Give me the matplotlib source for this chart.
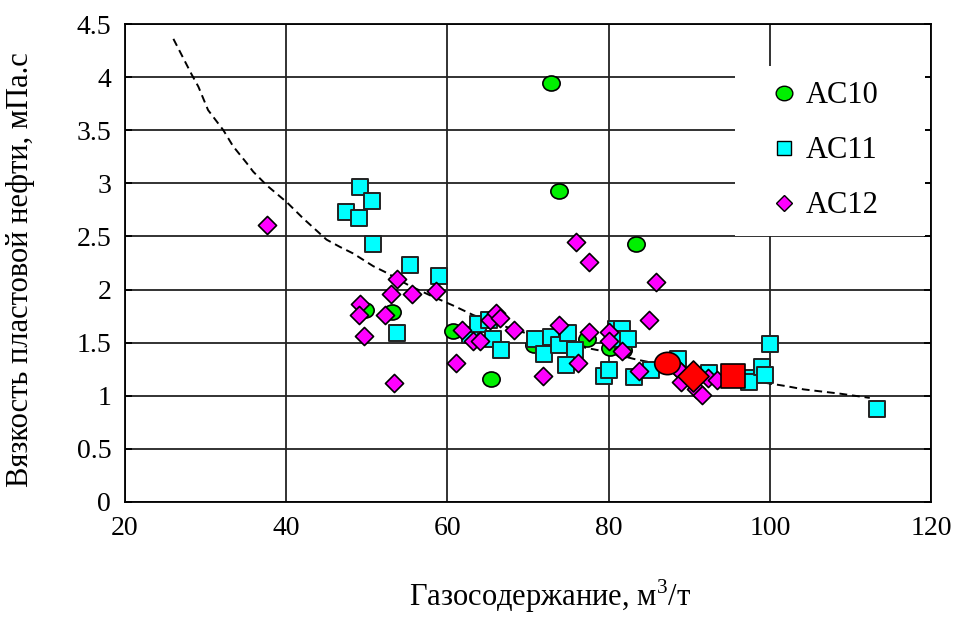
import numpy as np
import matplotlib
matplotlib.use("Agg")
from matplotlib import pyplot as plt
from matplotlib.path import Path
from matplotlib.lines import Line2D

plt.rcParams['font.family'] = ['Liberation Serif', 'DejaVu Serif']
plt.rcParams['mathtext.fontset'] = 'custom'
plt.rcParams['mathtext.rm'] = 'Liberation Serif'

# AC10
ac10_x = [49.8, 53.1, 60.7, 65.4, 70.8, 72.8, 73.8, 77.3, 80.2, 81.8, 83.4]
ac10_y = [1.81, 1.79, 1.61, 1.16, 1.48, 3.94, 2.93, 1.53, 1.45, 1.43, 2.43]

# AC11
ac11_x = [47.4, 49.0, 49.2, 50.6, 50.8, 55.4, 59.0, 53.8, 62.8, 63.8, 65.1, 65.7,
          66.7, 70.9, 72.0, 72.8, 73.8, 75.0, 75.8, 74.7, 79.4, 80.0, 80.9, 81.7,
          81.6, 82.4, 83.2, 85.2, 88.6, 92.4, 97.0, 97.4, 99.0, 99.4, 100.0, 113.3]
ac11_y = [2.73, 2.67, 2.97, 2.83, 2.43, 2.23, 2.13, 1.59, 1.57, 1.68, 1.71, 1.53,
          1.43, 1.53, 1.39, 1.55, 1.48, 1.59, 1.43, 1.29, 1.19, 1.24, 1.63, 1.63,
          1.53, 1.53, 1.18, 1.24, 1.35, 1.21, 1.17, 1.13, 1.27, 1.20, 1.49, 0.88]

# AC12
ac12_x = [37.6, 49.2, 49.0, 49.6, 52.3, 53.0, 53.8, 53.4, 55.6, 58.6, 61.1, 61.8,
          63.2, 64.0, 65.3, 66.0, 66.5, 68.3, 71.9, 73.8, 76.0, 76.2, 77.6, 77.6,
          80.0, 80.0, 81.6, 83.8, 85.0, 85.9, 88.7, 88.9, 89.0, 90.9, 91.6, 92.3, 93.4]
ac12_y = [2.61, 1.86, 1.76, 1.56, 1.76, 1.96, 2.10, 1.12, 1.96, 1.99, 1.31, 1.62,
          1.52, 1.52, 1.71, 1.78, 1.73, 1.62, 1.19, 1.67, 2.45, 1.31, 2.26, 1.60,
          1.60, 1.52, 1.42, 1.23, 1.71, 2.07, 1.24, 1.23, 1.13, 1.06, 1.01, 1.17, 1.15]

# averaged points
avg10 = (87.2, 1.31)
avg11 = (95.4, 1.19)
avg12 = (90.5, 1.19)

# trend curve
trend_x = [26.0, 28.3, 29.1, 30.3, 32.2, 33.4, 35.1, 35.9, 37.6, 40.1, 42.1, 45.0,
           46.7, 48.3, 50.8, 52.4, 55.2, 58.0, 60.7, 63.2, 65.3, 68.8, 72.7, 77.3,
           79.3, 83.5, 86.8, 90.5, 95.5, 99.6, 102.1, 104.2, 108.7, 112.4]
trend_y = [4.36, 4.02, 3.91, 3.69, 3.50, 3.35, 3.19, 3.11, 2.98, 2.82, 2.67, 2.47,
           2.40, 2.34, 2.22, 2.16, 2.04, 1.94, 1.85, 1.76, 1.70, 1.61, 1.53, 1.45,
           1.42, 1.34, 1.29, 1.24, 1.17, 1.12, 1.09, 1.06, 1.02, 0.98]

green = '#00f000'
cyan = '#00ffff'
magenta = '#ff00ff'
red = '#ff0000'

# slightly flattened circle for the round markers
circ = Path.unit_circle()
ellipse = Path(circ.vertices * np.array([1.0, 0.87]), circ.codes)

fig = plt.figure(figsize=(9.64, 6.17), dpi=100)
ax = fig.add_axes([0.1297, 0.1864, 0.8361, 0.7747])

ax.set_xlim(20, 120)
ax.set_ylim(0, 4.5)
ax.set_xticks(np.arange(20, 121, 20))
ax.set_yticks(np.arange(0, 4.51, 0.5))
ax.set_yticklabels(['0', '0.5', '1', '1.5', '2', '2.5', '3', '3.5', '4', '4.5'])
ax.grid(True, color='#222222', linewidth=1.3)
ax.set_axisbelow(True)
for s in ax.spines.values():
    s.set_linewidth(1.3)
ax.tick_params(axis='x', direction='in', length=0, labelsize=20, pad=10)
ax.tick_params(axis='y', direction='in', length=5, width=1.3, labelsize=20, pad=10,
               left=True, right=True)

ax.plot(trend_x, trend_y, color='black', linewidth=1.4, dashes=(4, 2.5), zorder=2)

ax.scatter(ac10_x, ac10_y, marker=ellipse, s=155, c=green, edgecolors='black',
           linewidths=1.2, zorder=3)
ax.scatter(ac11_x, ac11_y, marker='s', s=125, c=cyan, edgecolors='#222222',
           linewidths=1.4, zorder=4)
ax.scatter(ac12_x, ac12_y, marker='D', s=85, c=magenta, edgecolors='black',
           linewidths=1.2, zorder=5)

ax.scatter([avg10[0]], [avg10[1]], marker=ellipse, s=340, c=red,
           edgecolors='black', linewidths=1.2, zorder=6)
ax.scatter([avg12[0]], [avg12[1]], marker='D', s=250, c=red,
           edgecolors='black', linewidths=1.2, zorder=6)
ax.scatter([avg11[0]], [avg11[1]], marker='s', s=300, c=red,
           edgecolors='black', linewidths=1.2, zorder=6)

ax.set_xlabel(r'Газосодержание, м$^{3}$/т', fontsize=22)
ax.xaxis.set_label_coords(0.527, -0.158)
ax.set_ylabel('Вязкость пластовой нефти, мПа.с', fontsize=22)
ax.yaxis.set_label_coords(-0.112, 0.487)

handles = [
    Line2D([], [], linestyle='none', marker=ellipse, markersize=12,
           markerfacecolor=green, markeredgecolor='black', label='AC10'),
    Line2D([], [], linestyle='none', marker='s', markersize=10,
           markerfacecolor=cyan, markeredgecolor='black', label='AC11'),
    Line2D([], [], linestyle='none', marker='D', markersize=8,
           markerfacecolor=magenta, markeredgecolor='black', label='AC12'),
]
leg = ax.legend(handles=handles, loc='upper left', mode='expand',
                bbox_to_anchor=(0.757, 0.55, 0.236, 0.362),
                frameon=True, fontsize=22, handletextpad=-0.4, labelspacing=0.85,
                borderpad=0.5, handlelength=2.2, borderaxespad=0)
leg.get_frame().set_edgecolor('none')
leg.get_frame().set_facecolor('white')
leg.get_frame().set_alpha(1.0)
leg.get_frame().set_boxstyle('square', pad=0)

plt.savefig('out.png', dpi=100)
